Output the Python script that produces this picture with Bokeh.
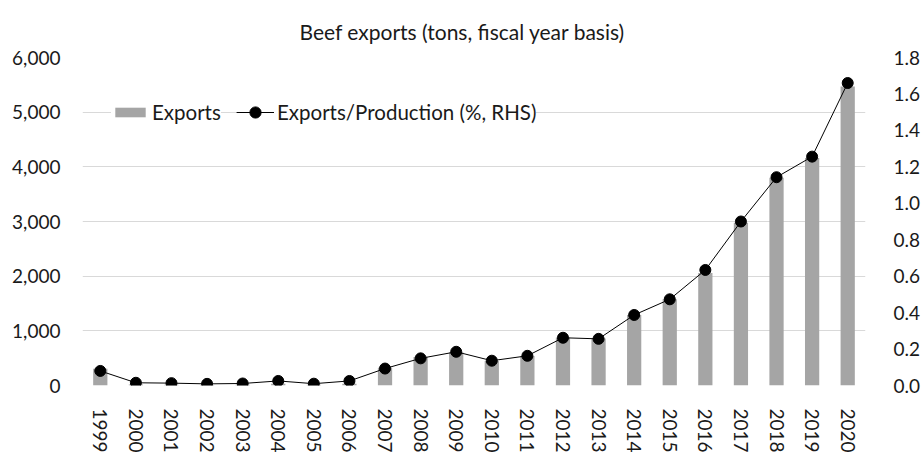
from bokeh.plotting import figure
from bokeh.models import (ColumnDataSource, Range1d, LinearAxis, Legend, LegendItem,
                          NumeralTickFormatter, FixedTicker, Title)
from bokeh.embed import file_html
from bokeh.resources import INLINE

# Fiscal years
years = ["1999", "2000", "2001", "2002", "2003", "2004", "2005", "2006", "2007", "2008",
         "2009", "2010", "2011", "2012", "2013", "2014", "2015", "2016", "2017", "2018",
         "2019", "2020"]
# Beef exports, tons
exports = [305, 20, 15, 10, 12, 30, 12, 30, 325, 520,
           610, 450, 540, 880, 860, 1290, 1580, 2060, 2975, 3800,
           4160, 5470]
# Exports as a share of production, %
share = [0.080, 0.015, 0.013, 0.009, 0.011, 0.025, 0.010, 0.025, 0.093, 0.149,
         0.185, 0.136, 0.163, 0.262, 0.256, 0.387, 0.473, 0.634, 0.900, 1.143,
         1.256, 1.660]

FONT = "Lato"
TXT = "#1a1a1a"

src = ColumnDataSource(dict(year=years, exports=exports, share=share))

p = figure(x_range=years, y_range=Range1d(0, 6000), width=923, height=455,
           output_backend="svg", toolbar_location=None,
           min_border_left=82, min_border_right=50, min_border_top=57,
           min_border_bottom=63)
p.outline_line_color = None
p.background_fill_color = "white"
p.border_fill_color = "white"

p.extra_y_ranges = {"pct": Range1d(0, 1.8)}

bars = p.vbar(x="year", top="exports", width=0.4, source=src,
              fill_color="#a5a5a5", line_color=None)
line = p.line(x="year", y="share", source=src, y_range_name="pct",
              line_color="black", line_width=1)
dots = p.scatter(x="year", y="share", source=src, y_range_name="pct",
                 size=11, fill_color="black", line_color="black")

# Left axis (tons)
la = p.yaxis[0]
la.ticker = FixedTicker(ticks=[0, 1000, 2000, 3000, 4000, 5000, 6000])
la.formatter = NumeralTickFormatter(format="0,0")

# Right axis (%)
ra = LinearAxis(y_range_name="pct",
                ticker=FixedTicker(ticks=[0, 0.2, 0.4, 0.6, 0.8, 1.0, 1.2, 1.4, 1.6, 1.8]),
                formatter=NumeralTickFormatter(format="0.0"))
p.add_layout(ra, "right")

for ax in [la, ra, p.xaxis[0]]:
    ax.axis_line_color = None
    ax.major_tick_line_color = None
    ax.minor_tick_line_color = None
    ax.major_label_text_font = FONT
    ax.major_label_text_font_size = "19px"
    ax.major_label_text_color = TXT
la.major_label_standoff = 16
ra.major_label_standoff = 22
p.xaxis.major_label_orientation = "vertical"
p.xaxis.major_label_standoff = 17

p.xgrid.grid_line_color = None
p.ygrid.grid_line_color = "#d9d9d9"
p.ygrid.grid_line_width = 1

legend_style = dict(orientation="horizontal", glyph_width=38, label_standoff=3,
                    padding=0, margin=0, border_line_color=None,
                    background_fill_color="white", background_fill_alpha=1,
                    label_text_font=FONT, label_text_font_size="20.5px",
                    label_text_color=TXT)
leg_bar = Legend(items=[LegendItem(label="Exports", renderers=[bars])],
                 location=(29, 261), glyph_height=12, **legend_style)
leg_line = Legend(items=[LegendItem(label="Exports/Production (%, RHS)", renderers=[line, dots])],
                  location=(154, 259), glyph_height=28, **legend_style)
p.add_layout(leg_bar)
p.add_layout(leg_line)

p.add_layout(Title(text="Beef exports (tons, fiscal year basis)", align="left", offset=217,
                   standoff=24, vertical_align="top", text_font=FONT,
                   text_font_size="21px", text_font_style="normal", text_color=TXT), "above")

open("out.html", "w").write(file_html(p, INLINE))
